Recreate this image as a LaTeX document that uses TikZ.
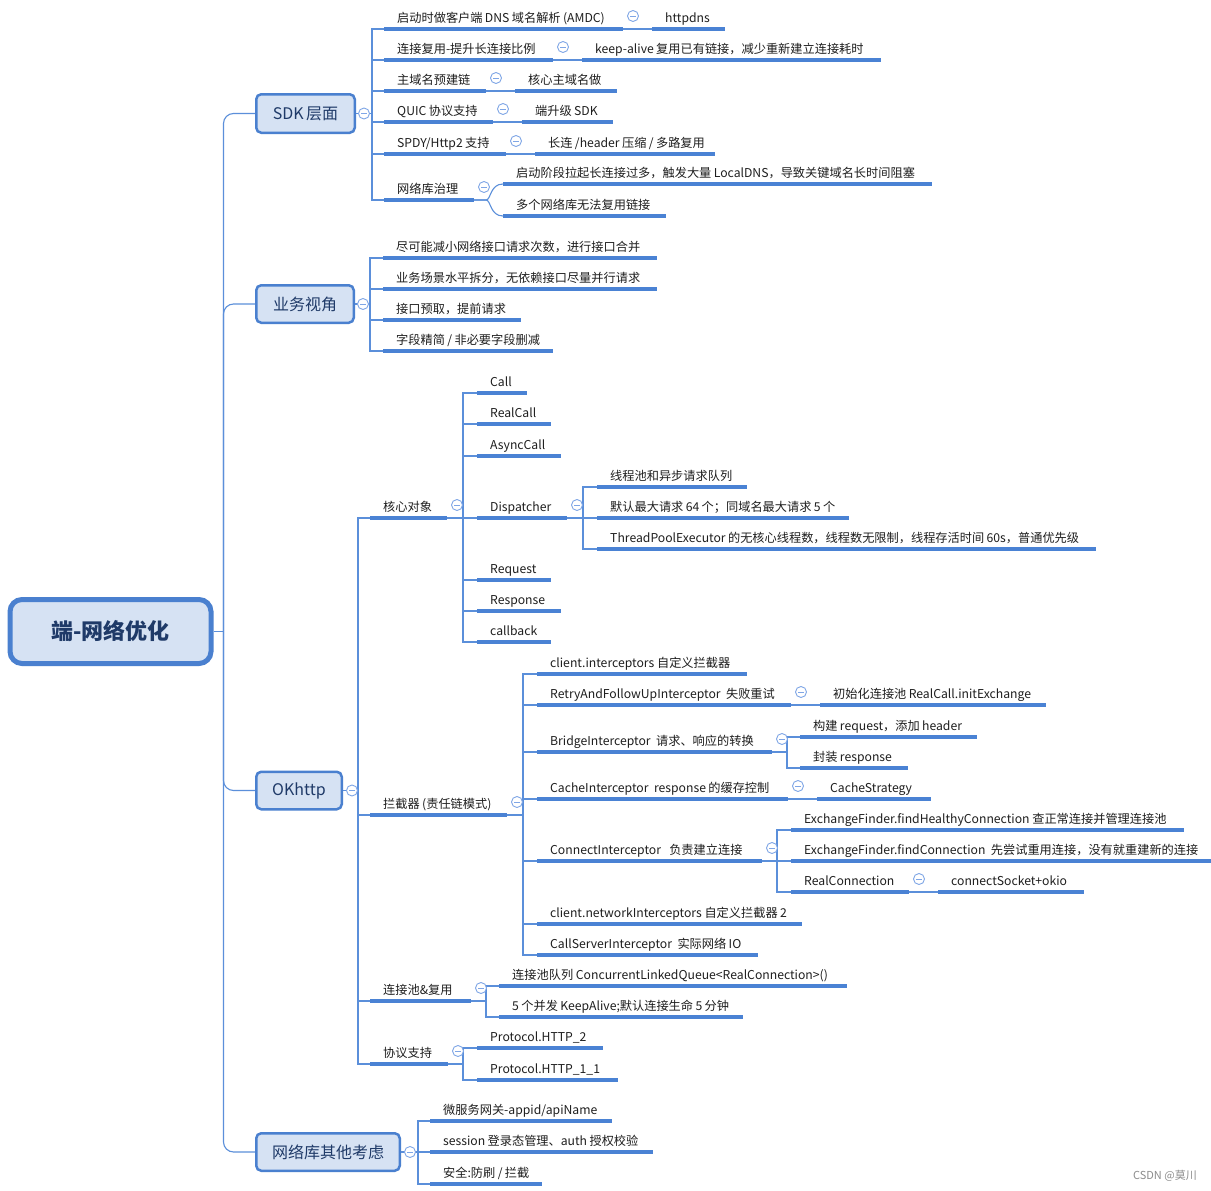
\documentclass[tikz,border=0pt]{standalone}
\usepackage{fontspec}
\setmainfont{Noto Sans CJK SC}
\usetikzlibrary{calc}
\newcount\cjkcnt
\cjkcnt="4E00
\loop
 \XeTeXcharclass\cjkcnt=7
 \advance\cjkcnt by 1
\ifnum\cjkcnt<"A000 \repeat
\cjkcnt="3000
\loop
 \XeTeXcharclass\cjkcnt=8
 \advance\cjkcnt by 1
\ifnum\cjkcnt<"3040 \repeat
\cjkcnt="FF00
\loop
 \XeTeXcharclass\cjkcnt=8
 \advance\cjkcnt by 1
\ifnum\cjkcnt<"FFF0 \repeat
\XeTeXinterchartokenstate=1
\XeTeXcharclass`\-=5
\XeTeXcharclass`\:=5
\XeTeXcharclass`\;=5
\XeTeXcharclass`\)=5
\XeTeXcharclass`\&=5
\XeTeXcharclass`\@=5
\XeTeXcharclass`\(=9
\XeTeXinterchartoks 0 7 = {\hskip 2.4pt\relax}
\XeTeXinterchartoks 7 0 = {\hskip 2.4pt\relax}
\XeTeXinterchartoks 7 9 = {\hskip 2.4pt\relax}
\definecolor{ul}{HTML}{4A82D4}
\definecolor{cn}{HTML}{5B8FDA}
\definecolor{tgc}{HTML}{7FA6E6}
\definecolor{bxf}{HTML}{D6E2F3}
\definecolor{bxd}{HTML}{4A80CF}
\definecolor{bxt}{HTML}{1F3A68}
\definecolor{txt}{HTML}{1E1E1E}
\tikzset{
 uline/.style={draw=ul, line width=3.2},
 conn/.style={draw=cn, line width=1.1},
 leaf/.style={anchor=base west, inner sep=0, text=txt, font=\fontsize{12.2}{14}\selectfont},
 tog/.style={circle, draw=tgc, fill=white, line width=0.9, minimum size=11, inner sep=0,
   path picture={\draw[tgc, line width=0.9] ([xshift=-2.6pt]path picture bounding box.center) -- ([xshift=2.6pt]path picture bounding box.center);}},
 topbox/.style={draw=bxd, fill=bxf, line width=2.5, rounded corners=5, text=bxt, font=\fontsize{16}{18}\selectfont, inner sep=0},
 rootbox/.style={draw=bxd, fill=bxf, line width=5, rounded corners=12, text=bxt, font=\fontsize{22}{24}\selectfont\bfseries, inner sep=0}
}
% name, x start, x end, y underline, text
\newcommand\tp[5]{%
 \coordinate (#1-s) at (#2,#4);
 \coordinate (#1-e) at (#3,#4);
 \draw[uline] (#1-s) -- (#1-e);
 \node[leaf] (#1) at ({#2+13},{#4-7}) {#5};}
\newcommand\cn[3]{\draw[conn] (#1-e) -- ++(#2,0) |- (#3-s);}
\newcommand\bcn[3]{\draw[conn] (#1.east) -- ++(#2,0) |- (#3-s);}
\newcommand\pcn[2]{\draw[conn] (#1-e) -- (#2-s);}
\newcommand\tg[2]{\node[tog] (#1) at ($(#2-e)+(10,-13)$) {};}
\begin{document}
\begin{tikzpicture}[x=1pt,y=-1pt]
\useasboundingbox[fill=white] (0,0) rectangle (1211,1191);

% root and main topics
\node[rootbox, minimum width=201, minimum height=64] (root) at (110.5,631.5) {端-网络优化};
\node[topbox, minimum width=98.5, minimum height=38.5] (sdk) at (305.5,113.5) {SDK层面};
\node[topbox, minimum width=97.5, minimum height=37.5] (biz) at (305,304) {业务视角};
\node[topbox, minimum width=85.5, minimum height=37.5] (ok) at (299,790.5) {OKhttp};
\node[topbox, minimum width=143.5, minimum height=37.5] (oth) at (328,1152) {网络库其他考虑};

\coordinate (hub) at ($(root.east)+(10,0)$);
\draw[conn] (root.east) -- (hub);
\draw[conn, rounded corners=10] (hub) |- (sdk.west);
\draw[conn, rounded corners=10] (hub) |- (biz.west);
\draw[conn, rounded corners=10] (hub) |- (ok.west);
\draw[conn, rounded corners=10] (hub) |- (oth.west);

% SDK
\tp{a1}{384}{623}{29}{启动时做客户端DNS域名解析(AMDC)}
\tp{a1c}{652}{725}{29}{httpdns}
\tp{a2}{384}{553}{60}{连接复用-提升长连接比例}
\tp{a2c}{582}{881}{60}{keep-alive复用已有链接，减少重新建立连接耗时}
\tp{a3}{384}{486}{91}{主域名预建链}
\tp{a3c}{515}{617}{91}{核心主域名做}
\tp{a4}{384}{493}{122}{QUIC协议支持}
\tp{a4c}{522}{613}{122}{端升级SDK}
\tp{a5}{384}{506}{154}{SPDY/Http2支持}
\tp{a5c}{535}{715}{154}{长连/header压缩/多路复用}
\tp{a6}{384}{474}{200}{网络库治理}
\tp{a6a}{503}{932}{184}{启动阶段拉起长连接过多，触发大量LocalDNS，导致关键域名长时间阻塞}
\tp{a6b}{503}{666}{216}{多个网络库无法复用链接}
\bcn{sdk}{16}{a1}\bcn{sdk}{16}{a2}\bcn{sdk}{16}{a3}
\bcn{sdk}{16}{a4}\bcn{sdk}{16}{a5}\bcn{sdk}{16}{a6}
\pcn{a1}{a1c}\pcn{a2}{a2c}\pcn{a3}{a3c}\pcn{a4}{a4c}\pcn{a5}{a5c}
\draw[conn] (a6-e) -- ++(12,0) .. controls ++(5,0) and ($(a6a-s)+(-13,0)$) .. (a6a-s);
\draw[conn] (a6-e) -- ++(12,0) .. controls ++(5,0) and ($(a6b-s)+(-13,0)$) .. (a6b-s);

% business
\tp{b1}{383}{657}{258}{尽可能减小网络接口请求次数，进行接口合并}
\tp{b2}{383}{657}{289}{业务场景水平拆分，无依赖接口尽量并行请求}
\tp{b3}{383}{521}{320}{接口预取，提前请求}
\tp{b4}{383}{553}{351}{字段精简/非必要字段删减}
\bcn{biz}{15}{b1}\bcn{biz}{15}{b2}\bcn{biz}{15}{b3}\bcn{biz}{15}{b4}

% OKhttp
\tp{c1}{370}{447}{518}{核心对象}
\tp{c1a}{477}{527}{393}{Call}
\tp{c1b}{477}{551}{424}{RealCall}
\tp{c1c}{477}{561}{456}{AsyncCall}
\tp{c1d}{477}{567}{518}{Dispatcher}
\tp{c1d1}{597}{747}{487}{线程池和异步请求队列}
\tp{c1d2}{597}{849}{518}{默认最大请求64个；同域名最大请求5个}
\tp{c1d3}{597}{1096}{549}{ThreadPoolExecutor的无核心线程数，线程数无限制，线程存活时间60s，普通优先级}
\tp{c1e}{477}{551}{580}{Request}
\tp{c1f}{477}{561}{611}{Response}
\tp{c1g}{477}{551}{642}{callback}
\cn{c1}{16}{c1a}\cn{c1}{16}{c1b}\cn{c1}{16}{c1c}\cn{c1}{16}{c1d}
\cn{c1}{16}{c1e}\cn{c1}{16}{c1f}\cn{c1}{16}{c1g}
\cn{c1d}{16}{c1d1}\cn{c1d}{16}{c1d2}\cn{c1d}{16}{c1d3}

\tp{c2}{370}{507}{815}{拦截器(责任链模式)}
\tp{c2a}{537}{747}{674}{client.interceptors 自定义拦截器}
\tp{c2b}{537}{791}{705}{RetryAndFollowUpInterceptor~~失败重试}
\tp{c2bc}{820}{1046}{705}{初始化连接池RealCall.initExchange}
\tp{c2c}{537}{772}{752}{BridgeInterceptor~~请求、响应的转换}
\tp{c2c1}{800}{977}{737}{构建request，添加header}
\tp{c2c2}{800}{908}{768}{封装response}
\tp{c2d}{537}{788}{799}{CacheInterceptor~~response的缓存控制}
\tp{c2dc}{817}{931}{799}{CacheStrategy}
\tp{c2e}{537}{762}{861}{ConnectInterceptor~~~负责建立连接}
\tp{c2e1}{791}{1184}{830}{ExchangeFinder.findHealthyConnection 查正常连接并管理连接池}
\tp{c2e2}{791}{1211}{861}{ExchangeFinder.findConnection~~先尝试重用连接，没有就重建新的连接}
\tp{c2e3}{791}{909}{892}{RealConnection}
\tp{c2e3c}{938}{1084}{892}{connectSocket+okio}
\tp{c2f}{537}{802}{924}{client.networkInterceptors 自定义拦截器2}
\tp{c2g}{537}{758}{955}{CallServerInterceptor~~实际网络IO}
\cn{c2}{16}{c2a}\cn{c2}{16}{c2b}\cn{c2}{16}{c2c}\cn{c2}{16}{c2d}
\cn{c2}{16}{c2e}\cn{c2}{16}{c2f}\cn{c2}{16}{c2g}
\pcn{c2b}{c2bc}\pcn{c2d}{c2dc}\pcn{c2e3}{c2e3c}
\cn{c2c}{15}{c2c1}\cn{c2c}{15}{c2c2}
\cn{c2e}{15}{c2e1}\cn{c2e}{15}{c2e2}\cn{c2e}{15}{c2e3}

\tp{c3}{370}{471}{1001}{连接池\&复用}
\tp{c3a}{499}{847}{986}{连接池队列 ConcurrentLinkedQueue<RealConnection>()}
\tp{c3b}{499}{743}{1017}{5个并发KeepAlive;默认连接生命5分钟}
\cn{c3}{15}{c3a}\cn{c3}{15}{c3b}

\tp{c4}{370}{448}{1064}{协议支持}
\tp{c4a}{477}{603}{1048}{Protocol.HTTP\_2}
\tp{c4b}{477}{618}{1080}{Protocol.HTTP\_1\_1}
\cn{c4}{15}{c4a}\cn{c4}{15}{c4b}

\bcn{ok}{15}{c1}\bcn{ok}{15}{c2}\bcn{ok}{15}{c3}\bcn{ok}{15}{c4}

% others
\tp{d1}{430}{612}{1121}{微服务网关-appid/apiName}
\tp{d2}{430}{653}{1152}{session登录态管理、auth授权校验}
\tp{d3}{430}{542}{1184}{安全:防刷/拦截}
\bcn{oth}{17}{d1}\bcn{oth}{17}{d2}\bcn{oth}{17}{d3}

% toggles
\node[tog] (tsdk) at ($(sdk.east)+(8,0)$) {};
\node[tog] (tbiz) at ($(biz.east)+(8,0)$) {};
\node[tog] (tok) at ($(ok.east)+(9,0)$) {};
\node[tog] (toth) at ($(oth.east)+(9,0)$) {};
\tg{ta1}{a1}\tg{ta2}{a2}\tg{ta3}{a3}\tg{ta4}{a4}\tg{ta5}{a5}\tg{ta6}{a6}
\tg{tc1}{c1}\tg{tc1d}{c1d}\tg{tc2}{c2}\tg{tc2b}{c2b}\tg{tc2c}{c2c}\tg{tc2d}{c2d}
\tg{tc2e}{c2e}\tg{tc2e3}{c2e3}\tg{tc3}{c3}\tg{tc4}{c4}

\node[anchor=east, inner sep=0, text=black!45, font=\fontsize{11}{12}\selectfont] (wm) at (1197,1176) {CSDN @莫川};
\end{tikzpicture}
\end{document}
